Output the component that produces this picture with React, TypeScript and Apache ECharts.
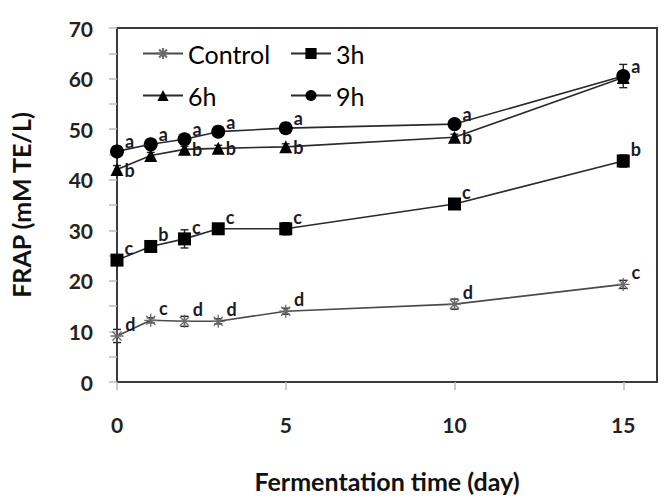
import React, { useEffect, useRef } from "react";
import * as echarts from "echarts";

// Fermentation days sampled
const days = [0, 1, 2, 3, 5, 10, 15];

// FRAP means (mM TE/L) and standard deviations
const control = [9.1, 12.2, 12.0, 12.0, 14.0, 15.4, 19.3];
const controlErr = [1.3, 0.5, 1.0, 0.5, 0.6, 1.0, 0.8];
const h3 = [24.1, 26.8, 28.3, 30.3, 30.3, 35.2, 43.7];
const h3Err = [0.7, 0.6, 1.8, 0.6, 1.2, 0.6, 1.2];
const h6 = [42.0, 44.8, 46.0, 46.2, 46.5, 48.4, 60.2];
const h6Err = [0.8, 0.6, 0.6, 0.6, 0.6, 0.6, 0.8];
const h9 = [45.6, 47.0, 48.0, 49.5, 50.2, 51.0, 60.5];
const h9Err = [0.6, 0.6, 0.6, 0.6, 0.6, 0.6, 2.3];

// Significance letters
const controlLetters = ["d", "c", "d", "d", "d", "d", "c"];
const h3Letters = ["c", "b", "c", "c", "c", "c", "b"];
const h6Letters = ["b", "", "b", "b", "b", "b", ""];
const h9Letters = ["a", "a", "a", "a", "a", "a", "a"];

const xTicks = [0, 5, 10, 15];
const yLabels = [0, 10, 20, 30, 40, 50, 60, 70];
const yTicks = [0, 5, 10, 15, 20, 25, 30, 35, 40, 45, 50, 55, 60, 65, 70];

const FONT = "Lato, 'Open Sans', sans-serif";
const ASTERISK = "path://M5,0L5,10M0,5L10,5M1.5,1.5L8.5,8.5M8.5,1.5L1.5,8.5";

function pts(v: number[]) {
  return days.map((d, i) => [d, v[i]]);
}

function errData(v: number[], e: number[]) {
  return days.map((d, i) => [d, v[i] - e[i], v[i] + e[i]]);
}

function errorSeries(v: number[], e: number[]) {
  return {
    type: "custom",
    silent: true,
    z: 1,
    encode: { x: 0, y: [1, 2] },
    data: errData(v, e),
    renderItem: (_params: any, api: any) => {
      const x = api.value(0);
      const lo = api.coord([x, api.value(1)]);
      const hi = api.coord([x, api.value(2)]);
      const w = 4;
      const style = { stroke: "#222", lineWidth: 1.4 };
      return {
        type: "group",
        children: [
          { type: "line", shape: { x1: lo[0], y1: lo[1], x2: hi[0], y2: hi[1] }, style },
          { type: "line", shape: { x1: lo[0] - w, y1: lo[1], x2: lo[0] + w, y2: lo[1] }, style },
          { type: "line", shape: { x1: hi[0] - w, y1: hi[1], x2: hi[0] + w, y2: hi[1] }, style },
        ],
      };
    },
  };
}

function letterLabel(letters: string[], offset: number[]) {
  return {
    show: true,
    position: "right",
    distance: 1,
    offset,
    color: "#1a1a2a",
    fontFamily: FONT,
    fontSize: 18,
    fontWeight: "bold",
    formatter: (p: any) => letters[p.dataIndex],
  };
}

const legendText = { fontFamily: FONT, fontSize: 25, color: "#000" };

export default function App() {
  const ref = useRef<HTMLDivElement>(null);

  useEffect(() => {
    document.body.style.margin = "0";
    if (!ref.current) return;
    const chart = echarts.init(ref.current, undefined, { renderer: "svg" });
    chart.setOption({
      animation: false,
      backgroundColor: "#fff",
      grid: {
        left: 110,
        right: 14,
        top: 28,
        bottom: 102,
        show: true,
        borderColor: "#3a3a3a",
        borderWidth: 2,
      },
      legend: [
        { data: ["Control"], left: 142, top: 41 },
        { data: ["3h"], left: 290, top: 41 },
        { data: ["6h"], left: 142, top: 83 },
        { data: ["9h"], left: 290, top: 83 },
      ].map((l) => ({
        ...l,
        padding: 0,
        itemWidth: 40,
        itemHeight: 14,
        itemGap: 4,
        textStyle: legendText,
      })),
      xAxis: {
        type: "value",
        min: 0,
        max: 16,
        name: "Fermentation time (day)",
        nameLocation: "middle",
        nameGap: 86,
        nameTextStyle: { fontFamily: FONT, fontSize: 25, fontWeight: "bold", color: "#111" },
        axisLine: { show: false },
        splitLine: { show: false },
        axisTick: {
          show: true,
          customValues: xTicks,
          length: 8,
          lineStyle: { color: "#bbb", width: 1.5 },
        },
        axisLabel: {
          customValues: xTicks,
          margin: 32,
          fontFamily: FONT,
          fontSize: 21,
          fontWeight: "bold",
          color: "#222",
        },
      },
      yAxis: {
        type: "value",
        min: 0,
        max: 70,
        name: "FRAP (mM TE/L)",
        nameLocation: "middle",
        nameGap: 84,
        nameRotate: 90,
        nameTextStyle: { fontFamily: FONT, fontSize: 25, fontWeight: "bold", color: "#111" },
        axisLine: { show: false },
        splitLine: { show: false },
        axisTick: {
          show: true,
          customValues: yTicks,
          length: 8,
          lineStyle: { color: "#bbb", width: 1.5 },
        },
        axisLabel: {
          customValues: yLabels,
          margin: 24,
          fontFamily: FONT,
          fontSize: 21,
          fontWeight: "bold",
          color: "#222",
        },
      },
      series: [
        errorSeries(control, controlErr),
        errorSeries(h3, h3Err),
        errorSeries(h6, h6Err),
        errorSeries(h9, h9Err),
        {
          name: "Control",
          type: "line",
          z: 3,
          data: pts(control),
          symbol: ASTERISK,
          symbolSize: 13,
          itemStyle: { color: "#777", borderColor: "#6a6a6a", borderWidth: 1.3 },
          lineStyle: { color: "#4a4a4a", width: 1.6 },
          label: letterLabel(controlLetters, [0, -12]),
        },
        {
          name: "3h",
          type: "line",
          z: 3,
          data: pts(h3),
          symbol: "rect",
          symbolSize: 13,
          itemStyle: { color: "#000" },
          lineStyle: { color: "#2a2a2a", width: 1.6 },
          label: letterLabel(h3Letters, [0, -12]),
        },
        {
          name: "6h",
          type: "line",
          z: 3,
          data: pts(h6),
          symbol: "triangle",
          symbolSize: 13,
          itemStyle: { color: "#000" },
          lineStyle: { color: "#2a2a2a", width: 1.6 },
          label: letterLabel(h6Letters, [0, 0]),
        },
        {
          name: "9h",
          type: "line",
          z: 4,
          data: pts(h9),
          symbol: "circle",
          symbolSize: 14,
          itemStyle: { color: "#000" },
          lineStyle: { color: "#2a2a2a", width: 1.6 },
          label: letterLabel(h9Letters, [0, -10]),
        },
      ],
    });
    return () => chart.dispose();
  }, []);

  return <div ref={ref} style={{ width: 671, height: 498 }} />;
}
